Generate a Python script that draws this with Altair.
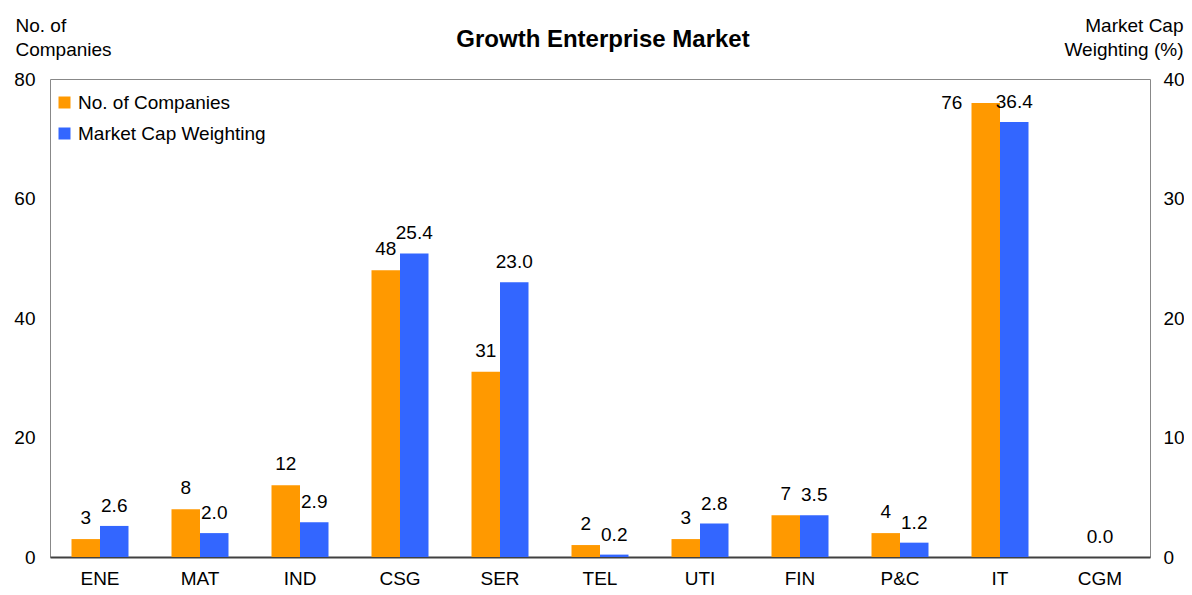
import altair as alt
import pandas as pd

categories = ["ENE", "MAT", "IND", "CSG", "SER", "TEL", "UTI", "FIN", "P&C", "IT", "CGM"]
companies = [3, 8, 12, 48, 31, 2, 3, 7, 4, 76, None]
market_cap = [2.6, 2.0, 2.9, 25.4, 23.0, 0.2, 2.8, 3.5, 1.2, 36.4, 0.0]
series = ["No. of Companies", "Market Cap Weighting"]
colors = ["#FF9900", "#3366FF"]
chart_title = ["Growth Enterprise Market"]

FONT = "Liberation Sans"
FS = 19
W = 1100

df_c = pd.DataFrame({"cat": categories, "value": companies, "series": series[0]}).dropna()
df_c["label"] = df_c["value"].map(lambda v: f"{int(v)}")
df_c_main = df_c[df_c["cat"] != "IT"]
df_c_it = df_c[df_c["cat"] == "IT"]
df_m = pd.DataFrame({"cat": categories, "value": market_cap, "series": series[1]})
df_m["label"] = df_m["value"].map(lambda v: f"{v:.1f}")
df_m_main = df_m[df_m["cat"] != "CGM"]
df_m_cgm = df_m[df_m["cat"] == "CGM"]
df_title = pd.DataFrame({"t": chart_title})

x_enc = alt.X("cat:N", sort=categories,
              scale=alt.Scale(domain=categories, paddingInner=0.43, paddingOuter=0.215),
              axis=alt.Axis(title=None, labelAngle=0, domainColor="#404040", domainWidth=2,
                            labelPadding=12))
xo_enc = alt.XOffset("series:N", sort=series, scale=alt.Scale(domain=series))
color_scale = alt.Scale(domain=series, range=colors)

y_left = alt.Y("value:Q", scale=alt.Scale(domain=[0, 80], nice=False),
               axis=alt.Axis(values=[0, 20, 40, 60, 80], title=["No. of", "Companies"],
                             titleAngle=0, titleAlign="left", titleBaseline="top",
                             titleX=-35, titleY=-63, titleLineHeight=24, orient="left",
                             labelPadding=15))
y_right = alt.Y("value:Q", scale=alt.Scale(domain=[0, 40], nice=False),
                axis=alt.Axis(values=[0, 10, 20, 30, 40], title=["Market Cap", "Weighting (%)"],
                              titleAngle=0, titleAlign="right", titleBaseline="top",
                              titleX=33, titleY=-63, titleLineHeight=24, orient="right",
                              labelPadding=13))

txt = dict(baseline="alphabetic", fontSize=FS, font=FONT, color="#000")

bars_c = alt.Chart(df_c).mark_bar().encode(
    x=x_enc, xOffset=xo_enc, y=y_left,
    color=alt.Color("series:N", scale=color_scale,
                    legend=alt.Legend(title=None, orient="none", legendX=5, legendY=14,
                                      symbolType="square", symbolSize=144, symbolStrokeWidth=0,
                                      labelFontSize=FS, labelFont=FONT, labelOffset=4,
                                      labelLimit=400, rowPadding=11, padding=0,
                                      labelColor="#000")))
text_c = alt.Chart(df_c_main).mark_text(dy=-15, **txt).encode(
    x=x_enc, xOffset=xo_enc, y=y_left, text="label:N")
text_it = alt.Chart(df_c_it).mark_text(dy=6, dx=-34, **txt).encode(
    x=x_enc, xOffset=xo_enc, y=y_left, text="label:N")
title_mark = alt.Chart(df_title).mark_text(baseline="alphabetic", fontSize=24, font=FONT,
                                           fontWeight="bold", color="#000").encode(
    x=alt.value(W / 2 + 3), y=alt.value(-32), text="t:N")

bars_m = alt.Chart(df_m).mark_bar().encode(
    x=x_enc, xOffset=xo_enc, y=y_right,
    color=alt.Color("series:N", scale=color_scale, legend=None))
text_m = alt.Chart(df_m_main).mark_text(dy=-14, **txt).encode(
    x=x_enc, xOffset=xo_enc, y=y_right, text="label:N")
text_cgm = alt.Chart(df_m_cgm).mark_text(dy=-14, **txt).encode(
    x=x_enc, y=y_right, text="label:N")

left = alt.layer(bars_c, text_c, text_it, title_mark)
right = alt.layer(bars_m, text_m, text_cgm)

chart = alt.layer(left, right).resolve_scale(y="independent").properties(
    width=W, height=478,
    autosize=alt.AutoSizeParams(type="none"),
    padding={"left": 42, "top": 71, "right": 34, "bottom": 30},
).configure_view(stroke="#888888", strokeWidth=1).configure_axis(
    labelFont=FONT, labelFontSize=FS, labelColor="#000", titleFont=FONT, titleFontSize=FS,
    titleFontWeight="normal", titleColor="#000", ticks=False, tickSize=0, grid=False
).configure_axisY(domain=False)

chart.save("out.html", embed_options={"renderer": "svg", "actions": False})
